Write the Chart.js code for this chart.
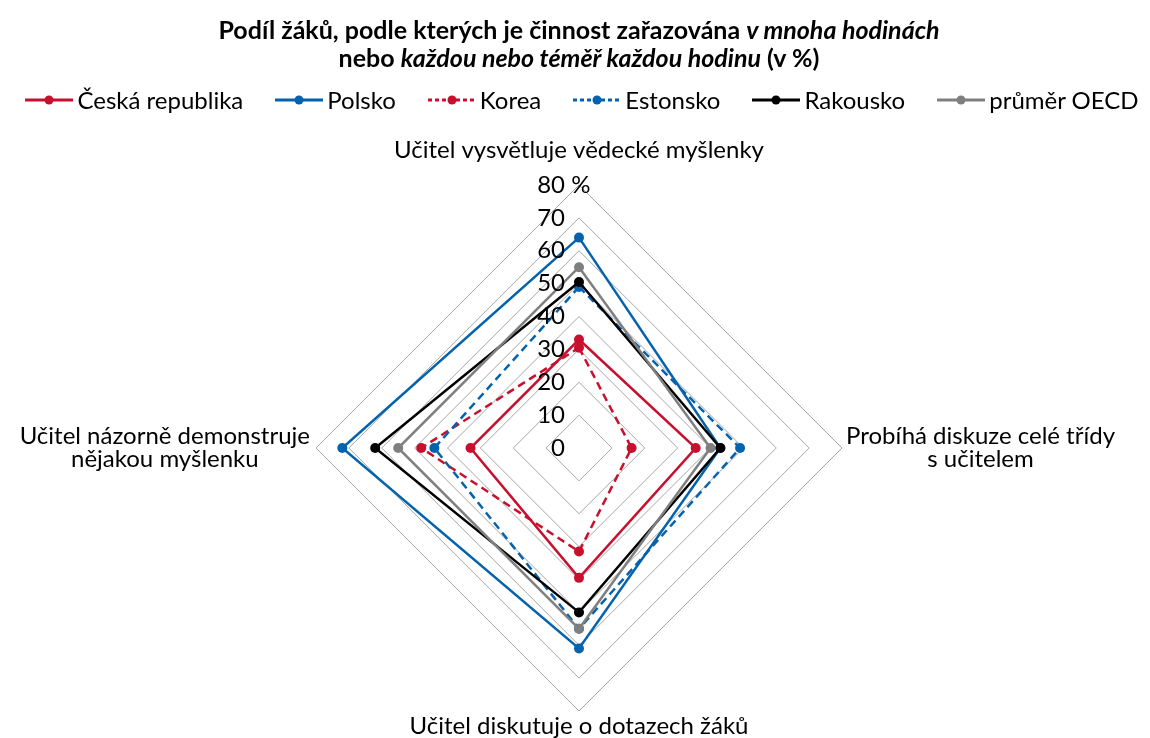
<!DOCTYPE html>
<html>
<head>
<meta charset="utf-8">
<script src="https://cdn.jsdelivr.net/npm/chart.js@4.4.1/dist/chart.umd.min.js"></script>
<style>
html,body{margin:0;padding:0;background:#fff;}
#wrap{position:relative;width:1150px;height:738px;font-family:Lato,sans-serif;color:#000;}
#chart{position:absolute;left:0;top:0;}
.title{position:absolute;left:0;top:15px;width:1158px;text-align:center;font-weight:bold;font-size:25px;line-height:28px;}
.legend{position:absolute;left:0;top:86px;width:1164px;display:flex;justify-content:center;gap:32px;font-size:24px;line-height:28px;}
.legend-item{display:flex;align-items:center;}
.legend-item svg{margin-right:4px;}
</style>
</head>
<body>
<div id="wrap">
<canvas id="chart" width="1150" height="738"></canvas>
<div class="title">Podíl žáků, podle kterých je činnost zařazována <i>v mnoha hodinách</i><br>nebo <i>každou nebo téměř každou hodinu</i> (v %)</div>
<div class="legend" id="legend"></div>
</div>
<script>
// axes of the radar, clockwise from the top
const categories = [
  ["Učitel vysvětluje vědecké myšlenky"],
  ["Probíhá diskuze celé třídy", "s učitelem"],
  ["Učitel diskutuje o dotazech žáků"],
  ["Učitel názorně demonstruje", "nějakou myšlenku"]
];

const seriesNames = ["Česká republika", "Polsko", "Korea", "Estonsko", "Rakousko", "průměr OECD"];

const ceskaRepublika = [33, 35.5, 39.5, 33];
const polsko = [64, 43, 61, 72];
const korea = [30.5, 16, 31.5, 48];
const estonsko = [49, 49, 55, 44];
const rakousko = [50.5, 43, 50, 62];
const prumerOECD = [55, 40, 55, 55];

const axisMin = 0;
const axisMax = 80;
const axisStep = 10;
const maxTickSuffix = " %";

const RED = "#c8102e";
const BLUE = "#0563ae";
const BLACK = "#000000";
const GRAY = "#7f7f7f";

const FONT = "Lato, sans-serif";

function series(label, data, color, dashed, order){
  return {
    label,
    data,
    order,
    borderColor: color,
    backgroundColor: color,
    pointBackgroundColor: color,
    pointBorderColor: color,
    borderWidth: 2.5,
    borderDash: dashed ? [8, 5] : [],
    pointRadius: 5,
    pointBorderWidth: 0,
    fill: false,
    tension: 0
  };
}

// later series sit on top, as in Excel
const datasets = [
  series(seriesNames[0], ceskaRepublika, RED, false, 6),
  series(seriesNames[1], polsko, BLUE, false, 5),
  series(seriesNames[2], korea, RED, true, 4),
  series(seriesNames[3], estonsko, BLUE, true, 3),
  series(seriesNames[4], rakousko, BLACK, false, 2),
  series(seriesNames[5], prumerOECD, GRAY, false, 1)
];

// value labels to the left of the vertical axis, like Excel does
const tickLabels = {
  id: "tickLabels",
  afterDatasetsDraw(chart){
    const s = chart.scales.r;
    const ctx = chart.ctx;
    ctx.save();
    ctx.font = "24px " + FONT;
    ctx.fillStyle = "#000";
    ctx.textBaseline = "middle";
    s.ticks.forEach(t => {
      const y = s.yCenter - s.getDistanceFromCenterForValue(t.value);
      const x = s.xCenter - 14;
      ctx.textAlign = "right";
      ctx.fillText(String(t.value), x, y);
      if (t.value === axisMax) {
        ctx.textAlign = "left";
        ctx.fillText(maxTickSuffix, x, y);
      }
    });
    ctx.restore();
  }
};

// category labels around the diamond, lines centred on each other
const pointLabels = {
  id: "pointLabels",
  afterDraw(chart){
    const s = chart.scales.r;
    const ctx = chart.ctx;
    ctx.save();
    ctx.font = "24px " + FONT;
    ctx.fillStyle = "#000";
    ctx.textBaseline = "middle";
    ctx.textAlign = "center";
    const lh = 23;
    categories.forEach((lines, i) => {
      const p = s.getPointPosition(i, s.drawingArea);
      const w = Math.max(...lines.map(l => ctx.measureText(l).width));
      const h = lines.length * lh;
      let cx = p.x, cy = p.y;
      if (i === 0) { cy = p.y - 35; }
      else if (i === 1) { cx = p.x + 4 + w / 2; }
      else if (i === 2) { cy = p.y + 15; }
      else { cx = p.x - 6 - w / 2; }
      lines.forEach((l, k) => {
        ctx.fillText(l, cx, cy - h / 2 + lh / 2 + k * lh);
      });
    });
    ctx.restore();
  }
};

new Chart(document.getElementById("chart"), {
  type: "radar",
  data: { labels: categories, datasets },
  options: {
    responsive: false,
    animation: false,
    layout: { padding: { top: 185, bottom: 26, left: 8, right: 0 } },
    plugins: { legend: { display: false }, tooltip: { enabled: false } },
    scales: {
      r: {
        min: axisMin,
        max: axisMax,
        beginAtZero: true,
        ticks: { stepSize: axisStep, display: false },
        pointLabels: { display: false },
        angleLines: { display: false },
        grid: { color: "#a6a6a6", lineWidth: 1, circular: false }
      }
    }
  },
  plugins: [tickLabels, pointLabels]
});

// legend built from the datasets
const legend = document.getElementById("legend");
datasets.forEach(ds => {
  const item = document.createElement("div");
  item.className = "legend-item";
  const dash = ds.borderDash.length ? 'stroke-dasharray="4 3"' : "";
  item.innerHTML =
    '<svg width="48" height="14"><line x1="0" y1="7" x2="48" y2="7" stroke="' + ds.borderColor +
    '" stroke-width="3" ' + dash + '/><circle cx="24" cy="7" r="4.5" fill="' + ds.borderColor + '"/></svg>' +
    '<span>' + ds.label + '</span>';
  legend.appendChild(item);
});
</script>
</body>
</html>
